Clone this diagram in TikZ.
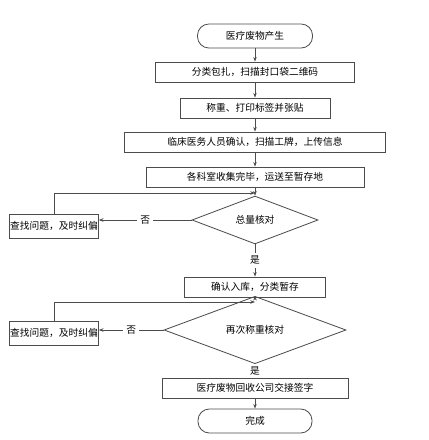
\documentclass[tikz,border=0pt]{standalone}
\usepackage{fontspec}
\setmainfont{Noto Sans CJK SC}
\usetikzlibrary{arrows.meta,shapes.geometric}

\begin{document}
\begin{tikzpicture}[x=0.03cm, y=-0.03cm,
    proc/.style={draw=black!70, line width=0.7pt, fill=white, minimum height=0.6cm, inner sep=1.5pt,
                 font=\fontsize{8.3}{10}\selectfont},
    term/.style={proc, rounded corners=0.34cm, minimum height=0.72cm},
    fixbox/.style={proc, minimum width=2.55cm, minimum height=0.72cm, inner sep=0.5pt},
    check/.style={draw=black!70, line width=0.7pt, diamond, inner sep=0pt, minimum height=1.02cm,
                  font=\fontsize{8.3}{10}\selectfont},
    arr/.style={-{Stealth[length=4pt, width=3pt]}, draw=black!70, line width=0.7pt},
    lbl/.style={fill=white, inner sep=2.5pt, font=\fontsize{8.3}{10}\selectfont}
]
\useasboundingbox (0,0) rectangle (429,440);

\node[term, minimum width=3.45cm] (start)    at (255, 36) {医疗废物产生};
\node[proc, minimum width=5.97cm] (pack)     at (255, 72) {分类包扎，扫描封口袋二维码};
\node[proc, minimum width=4.5cm]  (tag)      at (255,108) {称重、打印标签并张贴};
\node[proc, minimum width=7.83cm] (scan)     at (255,142) {临床医务人员确认，扫描工牌，上传信息};
\node[proc, minimum width=6.54cm] (collect)  at (255,177) {各科室收集完毕，运送至暂存地};
\node[check, minimum width=3.78cm] (total)   at (255,220) {总量核对};
\node[fixbox] (fix1)                         at (54,226)  {查找问题，及时纠偏};
\node[proc, minimum width=4.23cm] (store)    at (255,287) {确认入库，分类暂存};
\node[check, minimum width=5.46cm] (reweigh) at (255,330) {再次称重核对};
\node[fixbox] (fix2)                         at (54,333)  {查找问题，及时纠偏};
\node[proc, minimum width=5.58cm] (handover) at (255,388) {医疗废物回收公司交接签字};
\node[term, minimum width=3.42cm] (done)     at (255,421) {完成};

\coordinate (j1) at (255,193);
\coordinate (j2) at (255,302);

\draw[arr] (start) -- (pack);
\draw[arr] (pack) -- (tag);
\draw[arr] (tag) -- (scan);
\draw[arr] (scan) -- (collect);
\draw[arr] (collect) -- (total);
\draw[arr] (total.west) -- node[lbl]{否} (total.west -| fix1.east);
\draw[arr] (fix1.north) |- (j1);
\draw[arr] (total) -- node[lbl]{是} (store);
\draw[arr] (store) -- (reweigh);
\draw[arr] (reweigh.west) -- node[lbl]{否} (reweigh.west -| fix2.east);
\draw[arr] (fix2.north) |- (j2);
\draw[arr] (reweigh) -- node[lbl]{是} (handover);
\draw[arr] (handover) -- (done);
\end{tikzpicture}
\end{document}
